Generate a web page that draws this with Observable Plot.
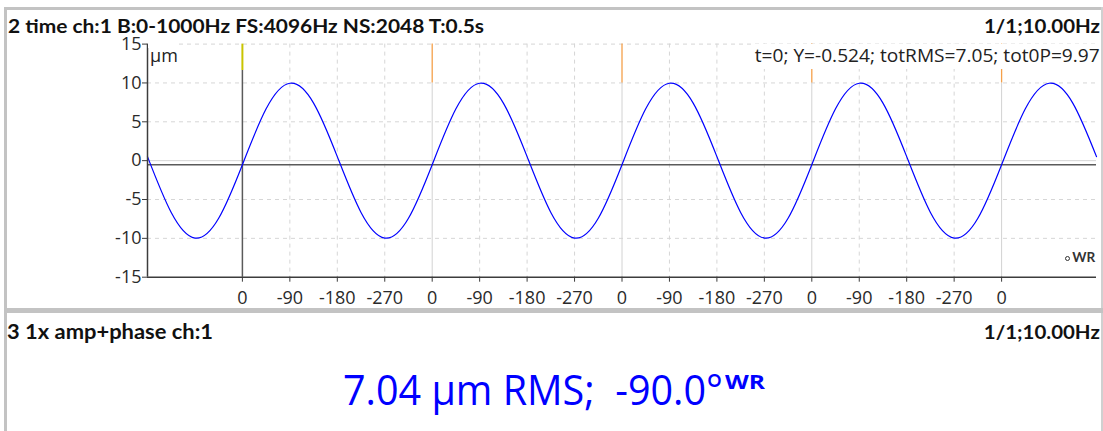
<!DOCTYPE html>
<html><head><meta charset="utf-8">
<script src="https://cdn.jsdelivr.net/npm/d3@7"></script>
<script src="https://cdn.jsdelivr.net/npm/@observablehq/plot@0.6"></script>
<style>
body{margin:0;background:#fff;}
#wrap{position:relative;width:1103px;height:431px;overflow:hidden;background:#fff;}
.bd{position:absolute;background:#c3c3c3;}
.t{position:absolute;white-space:nowrap;display:inline-block;}
#chart{position:absolute;left:0;top:0;}
</style></head>
<body><div id="wrap"><div id="chart"></div></div>
<script>
// ---- data ----
const times = [-0.05,-0.0375,-0.025,-0.0125,0,0.0125,0.025,0.0375,0.05,0.0625,0.075,0.0875,0.1,0.1125,0.125,0.1375,0.15,0.1625,0.175,0.1875,0.2,0.2125,0.225,0.2375,0.25,0.2625,0.275,0.2875,0.3,0.3125,0.325,0.3375,0.35,0.3625,0.375,0.3875,0.4,0.4125,0.425,0.4375,0.45];
const signal = [0.52,-6.67,-9.96,-7.41,-0.52,6.67,9.96,7.41,
                0.52,-6.67,-9.96,-7.41,-0.52,6.67,9.96,7.41,
                0.52,-6.67,-9.96,-7.41,-0.52,6.67,9.96,7.41,
                0.52,-6.67,-9.96,-7.41,-0.52,6.67,9.96,7.41,
                0.52,-6.67,-9.96,-7.41,-0.52,6.67,9.96,7.41,
                0.52];
const xTickTimes = [0,0.025,0.05,0.075,0.1,0.125,0.15,0.175,0.2,0.225,0.25,0.275,0.3,0.325,0.35,0.375,0.4];
const xTickLabels = ["0","-90","-180","-270","0","-90","-180","-270","0","-90","-180","-270","0","-90","-180","-270","0"];
const cycleStarts = [0,0.1,0.2,0.3,0.4];
const yTicks = [-15,-10,-5,0,5,10,15];
const yTickLabels = ["-15","-10","-5","0","5","10","15"];
const yDashed = [-10,-5,5,10,15];
const cursorT = 0;
const cursorY = -0.524;
const tDomain = [-0.05,0.45];
const yDomain = [-15,15];

const topTitle = "2 time ch:1 B:0-1000Hz FS:4096Hz NS:2048 T:0.5s";
const rateText = "1/1;10.00Hz";
const cursorText = "t=0; Y=-0.524; totRMS=7.05; tot0P=9.97";
const unitText = "µm";
const bottomTitle = "3 1x amp+phase ch:1";
const bigValue = "7.04 µm RMS;\u00a0 -90.0°";
const bigSup = "WR";
const legendText = "WR";

// ---- chart ----
const data = times.map((t,i)=>({t, v: signal[i]}));
const phaseGrid = xTickTimes.filter(t => !cycleStarts.includes(t));
const laterCycles = cycleStarts.filter(t => t !== cursorT);

const plot = Plot.plot({
  width:1103, height:431,
  marginLeft:147, marginRight:7, marginTop:43.6, marginBottom:154.3,
  style:{fontFamily:"'Open Sans'", fontSize:"18px", color:"#2a2a2a", background:"transparent", overflow:"visible"},
  x:{domain:tDomain, label:null},
  y:{domain:yDomain, label:null},
  marks:[
    Plot.ruleY(yDashed, {stroke:"#d6d6d6", strokeDasharray:"4,4", strokeWidth:1}),
    Plot.ruleY([0], {stroke:"#d6d6d6", strokeWidth:1}),
    Plot.ruleX(phaseGrid, {stroke:"#d6d6d6", strokeDasharray:"4,4", strokeWidth:1}),
    Plot.ruleX(laterCycles, {y1:-15, y2:10, stroke:"#d2d2d2", strokeWidth:1}),
    Plot.ruleX(laterCycles, {y1:10, y2:15, stroke:"#f5a04a", strokeWidth:1.3}),
    Plot.ruleY([cursorY], {stroke:"#5a5a5a", strokeWidth:1.5}),
    Plot.ruleX([cursorT], {y1:-15, y2:11.6, stroke:"#5a5a5a", strokeWidth:1.5}),
    Plot.ruleX([cursorT], {y1:11.6, y2:15, stroke:"#c9c400", strokeWidth:2}),
    Plot.line(data, {x:"t", y:"v", stroke:"#0000ff", strokeWidth:1.2, curve:"natural"}),
    Plot.ruleX([tDomain[0]], {y1:-15, y2:15, stroke:"#3c3c3c", strokeWidth:1.5}),
    Plot.ruleY([yDomain[0]], {stroke:"#3c3c3c", strokeWidth:1.5}),
    Plot.axisY({ticks:yTicks, tickFormat:(d)=>yTickLabels[yTicks.indexOf(d)], tickSize:5, tickPadding:1, label:null, stroke:"#3c3c3c"}),
    Plot.axisX({ticks:xTickTimes, tickFormat:(d)=>xTickLabels[xTickTimes.indexOf(d)], tickSize:5, tickPadding:9, label:null, stroke:"#3c3c3c"})
  ]
});
document.getElementById("chart").appendChild(plot);

// ---- frame & texts ----
const wrap = document.getElementById("wrap");
function box(l,t,w,h,c){const d=document.createElement("div");d.className="bd";Object.assign(d.style,{left:l+"px",top:t+"px",width:w+"px",height:h+"px"});if(c)d.style.background=c;wrap.appendChild(d);return d;}
box(4,7,1099,3);
box(4,7,3,424);
box(1101,7,2,424,"#d0d0d0");
box(4,308,1099,4.5);

// L = line-height factor; cap centre sits at (L/2 + 0.027) em below the box top
function txt(s,{x,cy,anchor="left",size,font="Lato",weight="400",color="#111",width=null,L=0.7}){
  const e=document.createElement("span");e.className="t";e.textContent=s;
  Object.assign(e.style,{fontFamily:font,fontSize:size+"px",fontWeight:weight,color,lineHeight:L});
  wrap.appendChild(e);
  const w=e.getBoundingClientRect().width;
  const k=width? width/w:1;
  e.style.top=(cy-(L/2+0.027)*size)+"px";
  if(anchor==="left"){e.style.left=x+"px";e.style.transformOrigin="left center";}
  else {e.style.left=(x-w)+"px";e.style.transformOrigin="right center";}
  e.style.transform=`scaleX(${k})`;
  return e;
}
txt(topTitle,{x:8,cy:26.5,size:18.5,weight:"700",width:476,L:0.45});
txt(rateText,{x:1100,cy:27,anchor:"right",size:18.5,weight:"700",width:116});
// white box behind the cursor readout
box(752,44,349,25,"#fff");
txt(cursorText,{x:1100,cy:56,anchor:"right",size:19,font:"'Open Sans'",color:"#222",width:345});
box(148,40,30,8,"#fff");
txt(unitText,{x:150,cy:56,size:18,font:"'Open Sans'",color:"#222"});
txt(bottomTitle,{x:7,cy:331.8,size:20,weight:"700",width:206});
txt(rateText,{x:1100,cy:331.8,anchor:"right",size:19,weight:"700",width:116});

// legend
txt(legendText,{x:1095,cy:258.7,anchor:"right",size:12.5,weight:"700",color:"#333",width:23});
const ring=document.createElement("div");
Object.assign(ring.style,{position:"absolute",left:"1065px",top:"256px",width:"3px",height:"3px",border:"1px solid #333",borderRadius:"50%"});
wrap.appendChild(ring);

// big value with superscript
txt(bigValue,{x:343,cy:390,size:42,font:"'Open Sans'",color:"#0000ff",width:380});
txt(bigSup,{x:725,cy:383,size:19,font:"'Open Sans'",weight:"700",color:"#0000ff",width:40});
</script>
</body></html>
